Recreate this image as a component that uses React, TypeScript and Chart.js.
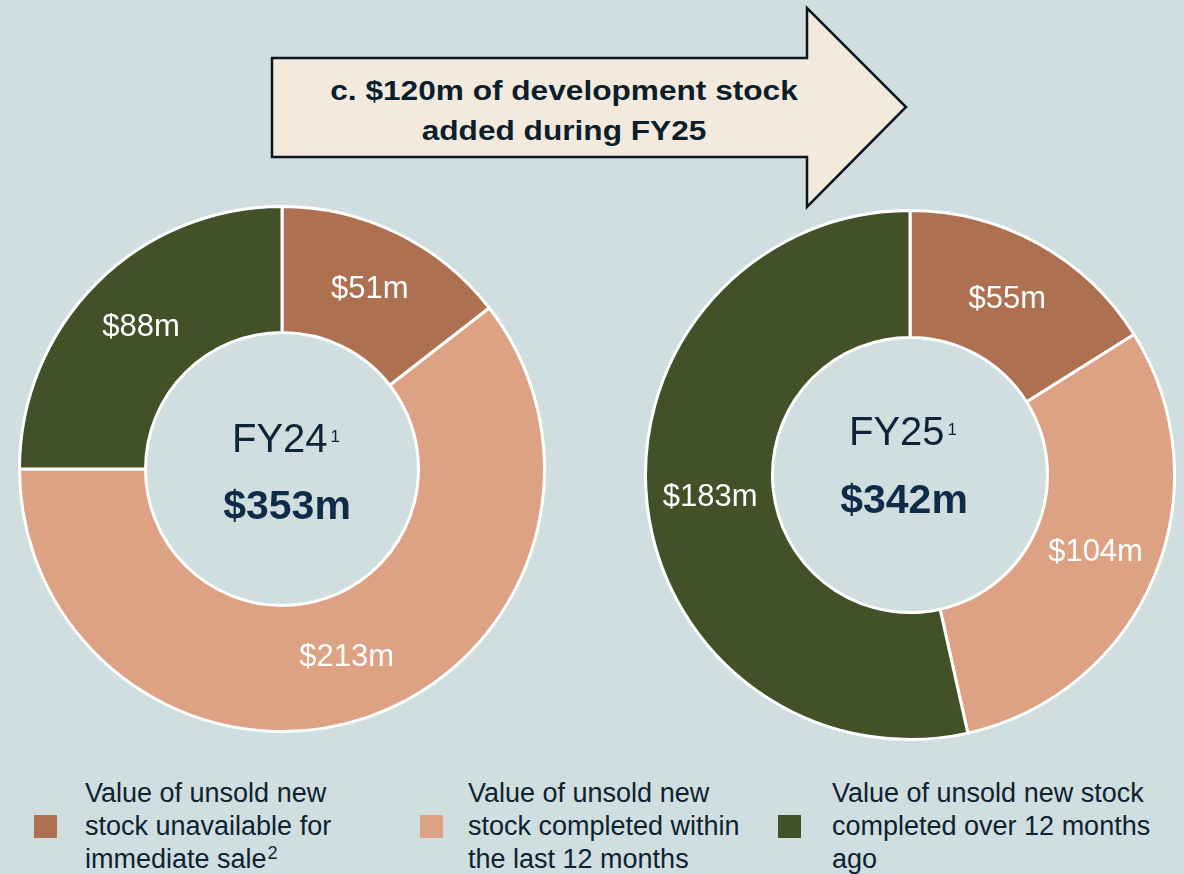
import React, { useEffect, useRef } from "react";
import { Chart, registerables } from "chart.js";

Chart.register(...registerables);

const FONT = '"Liberation Sans", Arial, Helvetica, sans-serif';

// ---- data ----
const categories = [
  "Value of unsold new stock unavailable for immediate sale",
  "Value of unsold new stock completed within the last 12 months",
  "Value of unsold new stock completed over 12 months ago",
];
const fy24Values = [51, 213, 88];
const fy25Values = [55, 104, 183];
const fy24Labels = ["$51m", "$213m", "$88m"];
const fy25Labels = ["$55m", "$104m", "$183m"];
const fy24Title = "FY24";
const fy25Title = "FY25";
const fy24Total = "$353m";
const fy25Total = "$342m";
const titleNote = "1";
const seriesColors = ["#AD7152", "#DDA183", "#435129"];
const arrowLines = ["c. $120m of development stock", "added during FY25"];
const legendLines = [
  ["Value of unsold new", "stock unavailable for", "immediate sale"],
  ["Value of unsold new", "stock completed within", "the last 12 months"],
  ["Value of unsold new stock", "completed over 12 months", "ago"],
];
const legendNotes = ["2", "", ""];

const BG = "#D1DEDF";

const doughnutTextPlugin = {
  id: "doughnutText",
  afterDatasetsDraw(chart: any, _args: any, opts: any) {
    const ctx = chart.ctx;
    const meta = chart.getDatasetMeta(0);
    ctx.save();
    ctx.fillStyle = "#ffffff";
    ctx.font = `31px ${FONT}`;
    ctx.textAlign = "center";
    ctx.textBaseline = "middle";
    meta.data.forEach((arc: any, i: number) => {
      const p = arc.tooltipPosition(false);
      ctx.fillText(opts.labels[i], p.x, p.y);
    });
    const first = meta.data[0];
    const cx = first.x;
    const cy = first.y;
    // title with superscript
    ctx.textBaseline = "alphabetic";
    ctx.textAlign = "left";
    ctx.font = `40px ${FONT}`;
    const tw = ctx.measureText(opts.title).width;
    ctx.font = `17px ${FONT}`;
    const sw = ctx.measureText(opts.sup).width;
    const total = tw + 3 + sw;
    const tx = cx + opts.titleDx - total / 2;
    ctx.fillStyle = "#0D2438";
    ctx.font = `40px ${FONT}`;
    ctx.fillText(opts.title, tx, cy + opts.titleY);
    ctx.font = `17px ${FONT}`;
    ctx.fillText(opts.sup, tx + tw + 3, cy + opts.titleY - 10);
    // total
    ctx.textAlign = "center";
    ctx.fillStyle = "#0E2B47";
    ctx.font = `bold 41px ${FONT}`;
    ctx.fillText(opts.total, cx + opts.valueDx, cy + opts.valueY);
    ctx.restore();
  },
};

function Donut(props: {
  values: number[];
  labels: string[];
  title: string;
  total: string;
  size: number;
  left: number;
  top: number;
  titleDx: number;
  valueDx: number;
  titleY: number;
  valueY: number;
}) {
  const ref = useRef<HTMLCanvasElement | null>(null);
  useEffect(() => {
    if (!ref.current) return;
    const chart = new Chart(ref.current, {
      type: "doughnut",
      data: {
        labels: categories,
        datasets: [
          {
            data: props.values,
            backgroundColor: seriesColors,
            borderColor: "#ffffff",
            borderWidth: 3,
          },
        ],
      },
      options: {
        responsive: false,
        animation: false,
        cutout: "52%",
        layout: { padding: 0 },
        plugins: {
          legend: { display: false },
          tooltip: { enabled: false },
          doughnutText: {
            labels: props.labels,
            title: props.title,
            sup: titleNote,
            total: props.total,
            titleDx: props.titleDx,
            valueDx: props.valueDx,
            titleY: props.titleY,
            valueY: props.valueY,
          },
        } as any,
      },
      plugins: [doughnutTextPlugin],
    });
    return () => chart.destroy();
  }, []);
  return (
    <canvas
      ref={ref}
      width={props.size}
      height={props.size}
      style={{
        position: "absolute",
        left: props.left,
        top: props.top,
        width: props.size,
        height: props.size,
      }}
    />
  );
}

export default function App() {
  useEffect(() => {
    document.body.style.margin = "0";
  }, []);
  const legendX = [
    { sq: 34, tx: 85 },
    { sq: 420, tx: 468 },
    { sq: 778, tx: 832 },
  ];
  return (
    <div
      style={{
        position: "absolute",
        left: 0,
        top: 0,
        width: 1184,
        height: 874,
        background: BG,
        overflow: "hidden",
        fontFamily: FONT,
      }}
    >
      <svg
        width={1184}
        height={874}
        style={{ position: "absolute", left: 0, top: 0 }}
      >
        <polygon
          points="272,58 807,58 807,8 906,107 807,207 807,157 272,157"
          fill="#F3E9DC"
          stroke="#0B1620"
          strokeWidth={2.5}
          strokeLinejoin="miter"
        />
        {arrowLines.map((t, i) => (
          <text
            key={i}
            transform={`translate(564,${100 + i * 40}) scale(1.13,1)`}
            textAnchor="middle"
            fontFamily={FONT}
            fontWeight="bold"
            fontSize={28}
            fill="#0A1E2B"
          >
            {t}
          </text>
        ))}
      </svg>
      <Donut
        values={fy24Values}
        labels={fy24Labels}
        title={fy24Title}
        total={fy24Total}
        size={528}
        left={18}
        top={205}
        titleDx={4}
        valueDx={5}
        titleY={-17}
        valueY={50}
      />
      <Donut
        values={fy25Values}
        labels={fy25Labels}
        title={fy25Title}
        total={fy25Total}
        size={532}
        left={644}
        top={209}
        titleDx={-7}
        valueDx={-6}
        titleY={-30}
        valueY={38}
      />
      {legendLines.map((lines, i) => (
        <React.Fragment key={i}>
          <div
            style={{
              position: "absolute",
              left: legendX[i].sq,
              top: 815,
              width: 23,
              height: 23,
              background: seriesColors[i],
            }}
          />
          <div
            style={{
              position: "absolute",
              left: legendX[i].tx,
              top: 777,
              fontSize: 27,
              lineHeight: "33px",
              color: "#0E2230",
              whiteSpace: "nowrap",
            }}
          >
            {lines.map((l, j) => (
              <div key={j}>
                {l}
                {j === lines.length - 1 && legendNotes[i] ? (
                  <span
                    style={{
                      fontSize: 18,
                      position: "relative",
                      top: -9,
                      marginLeft: 1,
                    }}
                  >
                    {legendNotes[i]}
                  </span>
                ) : null}
              </div>
            ))}
          </div>
        </React.Fragment>
      ))}
    </div>
  );
}
